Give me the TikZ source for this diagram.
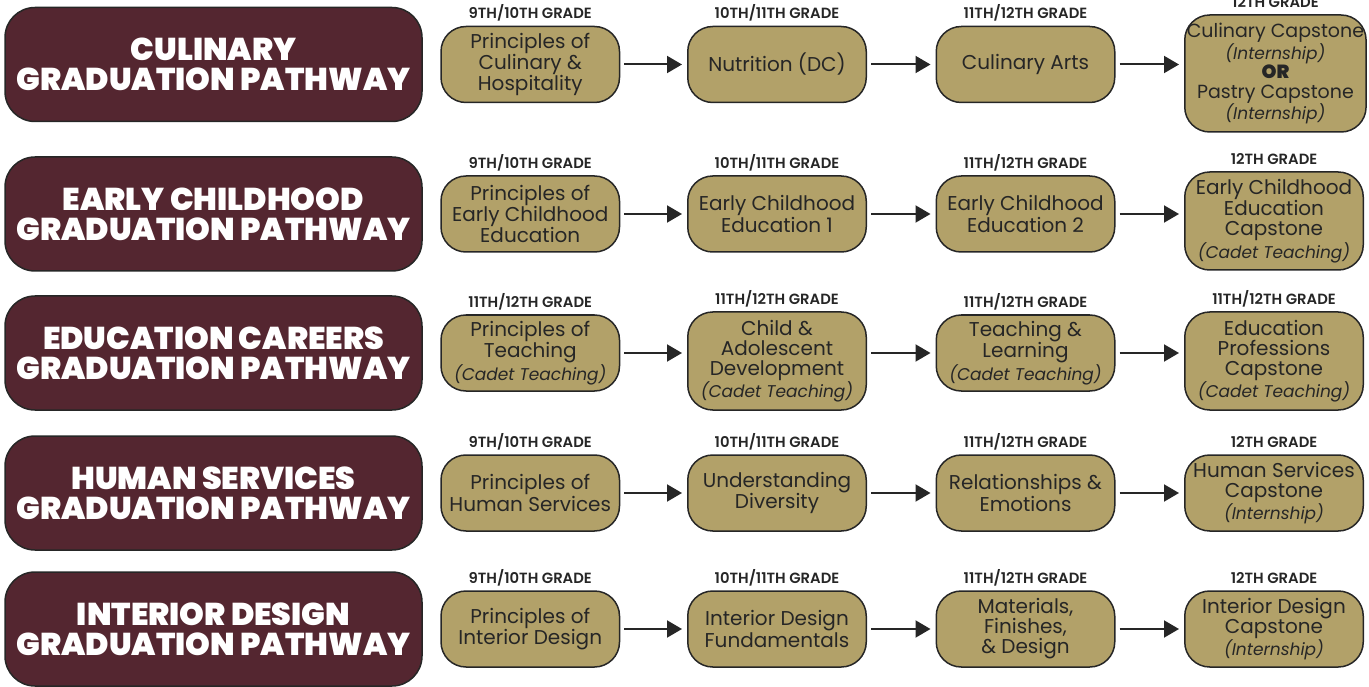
\documentclass[tikz,border=0pt]{standalone}
\usepackage{fontspec}
\setmainfont{Poppins}
\newfontfamily\heavyfont{Poppins Black}
\newfontfamily\semifont{Poppins SemiBold}
\usetikzlibrary{arrows.meta, positioning}

\definecolor{maroon}{HTML}{542630}
\definecolor{gold}{HTML}{B2A169}
\definecolor{ink}{HTML}{262626}

\newcommand{\note}[1]{{\fontsize{17}{18}\selectfont\itshape(#1)}}

\begin{document}
\begin{tikzpicture}[x=1pt, y=-1pt, >={Triangle[length=15pt,width=17pt]},
  pathway/.style={draw=ink, line width=1.5pt, fill=maroon, rounded corners=30pt,
    minimum width=417pt, minimum height=114pt, text=white, align=center,
    font=\heavyfont\fontsize{31.5}{30}\selectfont},
  course/.style={draw=ink, line width=1.5pt, fill=gold, rounded corners=25pt,
    minimum width=178.5pt, minimum height=76pt, inner sep=2pt, text=ink, align=center,
    font=\fontsize{20}{20}\selectfont},
  grade/.style={font=\semifont\fontsize{14.8}{15}\selectfont, text=ink,
    inner sep=0pt, text depth=0pt},
  every label/.style={grade}, label distance=7pt,
  flow/.style={->, line width=2pt, draw=ink, shorten <=4pt, shorten >=5pt}]

  \useasboundingbox (0,0) rectangle (1369,687);

% pathway titles
  \node[pathway] (cul) at (213.5,64.5) {CULINARY\\GRADUATION PATHWAY};
  \node[pathway] (ech) at (213.5,214)  {EARLY CHILDHOOD\\GRADUATION PATHWAY};
  \node[pathway] (edu) at (213.5,353)  {EDUCATION CAREERS\\GRADUATION PATHWAY};
  \node[pathway] (hum) at (213.5,493)  {HUMAN SERVICES\\GRADUATION PATHWAY};
  \node[pathway] (int) at (213.5,629)  {INTERIOR DESIGN\\GRADUATION PATHWAY};

% culinary
  \node[course, right=17.5pt of cul, label=above:9TH/10TH GRADE]    (cul1) {Principles of\\Culinary \&\\Hospitality};
  \node[course, right=66.75pt of cul1, label=above:10TH/11TH GRADE] (cul2) {Nutrition (DC)};
  \node[course, right=68.5pt of cul2, label=above:11TH/12TH GRADE]  (cul3) {Culinary Arts};
  \node[course, right=68.5pt of cul3, yshift=-9pt, minimum height=117pt,
        font=\fontsize{19}{19.5}\selectfont, label=above:12TH GRADE] (cul4)
        {Culinary Capstone\\\note{Internship}\\{\heavyfont OR}\\Pastry Capstone\\\note{Internship}};

% early childhood
  \node[course, right=17.5pt of ech, label=above:9TH/10TH GRADE]    (ech1) {Principles of\\Early Childhood\\Education};
  \node[course, right=66.75pt of ech1, label=above:10TH/11TH GRADE] (ech2) {Early Childhood\\Education 1};
  \node[course, right=68.5pt of ech2, label=above:11TH/12TH GRADE]  (ech3) {Early Childhood\\Education 2};
  \node[course, right=68.5pt of ech3, yshift=-7pt, minimum height=98pt,
        label=above:12TH GRADE] (ech4)
        {Early Childhood\\Education\\Capstone\\\note{Cadet Teaching}};

% education careers
  \node[course, right=17.5pt of edu, label=above:11TH/12TH GRADE] (edu1) {Principles of\\Teaching\\\note{Cadet Teaching}};
  \node[course, right=66.75pt of edu1, yshift=-8pt, minimum height=98pt,
        label=above:11TH/12TH GRADE] (edu2)
        {Child \&\\Adolescent\\Development\\\note{Cadet Teaching}};
  \node[course, right=68.5pt of edu2, yshift=8pt, label=above:11TH/12TH GRADE] (edu3)
        {Teaching \&\\Learning\\\note{Cadet Teaching}};
  \node[course, right=68.5pt of edu3, yshift=-8pt, minimum height=98pt,
        label=above:11TH/12TH GRADE] (edu4)
        {Education\\Professions\\Capstone\\\note{Cadet Teaching}};

% human services
  \node[course, right=17.5pt of hum, label=above:9TH/10TH GRADE]    (hum1) {Principles of\\Human Services};
  \node[course, right=66.75pt of hum1, label=above:10TH/11TH GRADE] (hum2) {Understanding\\Diversity};
  \node[course, right=68.5pt of hum2, label=above:11TH/12TH GRADE]  (hum3) {Relationships \&\\Emotions};
  \node[course, right=68.5pt of hum3, label=above:12TH GRADE]       (hum4) {Human Services\\Capstone\\\note{Internship}};

% interior design
  \node[course, right=17.5pt of int, label=above:9TH/10TH GRADE]    (int1) {Principles of\\Interior Design};
  \node[course, right=66.75pt of int1, label=above:10TH/11TH GRADE] (int2) {Interior Design\\Fundamentals};
  \node[course, right=68.5pt of int2, label=above:11TH/12TH GRADE]  (int3) {Materials,\\Finishes,\\\& Design};
  \node[course, right=68.5pt of int3, label=above:12TH GRADE]       (int4) {Interior Design\\Capstone\\\note{Internship}};

% the links
  \draw[flow] (cul1.east) -- (cul1.east -| cul2.west);
  \draw[flow] (cul2.east) -- (cul2.east -| cul3.west);
  \draw[flow] (cul3.east) -- (cul3.east -| cul4.west);
  \draw[flow] (ech1.east) -- (ech1.east -| ech2.west);
  \draw[flow] (ech2.east) -- (ech2.east -| ech3.west);
  \draw[flow] (ech3.east) -- (ech3.east -| ech4.west);
  \draw[flow] (edu1.east) -- (edu1.east -| edu2.west);
  \draw[flow] (edu3.west -| edu2.east) -- (edu3.west);
  \draw[flow] (edu3.east) -- (edu3.east -| edu4.west);
  \draw[flow] (hum1.east) -- (hum1.east -| hum2.west);
  \draw[flow] (hum2.east) -- (hum2.east -| hum3.west);
  \draw[flow] (hum3.east) -- (hum3.east -| hum4.west);
  \draw[flow] (int1.east) -- (int1.east -| int2.west);
  \draw[flow] (int2.east) -- (int2.east -| int3.west);
  \draw[flow] (int3.east) -- (int3.east -| int4.west);

\end{tikzpicture}
\end{document}
